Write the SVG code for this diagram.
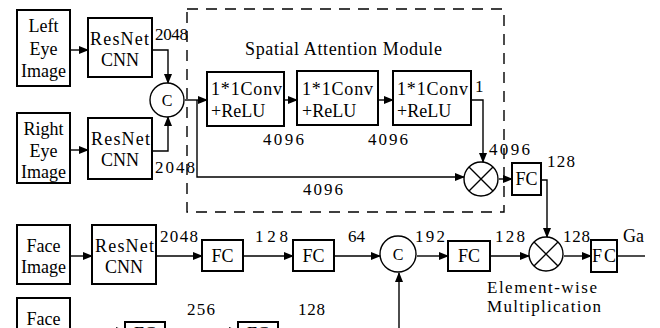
<svg xmlns="http://www.w3.org/2000/svg" width="660" height="328" viewBox="0 0 660 328" font-family="Liberation Serif" font-size="18">
<defs>
<marker id="ah" markerWidth="10" markerHeight="8" refX="9" refY="4" orient="auto" markerUnits="userSpaceOnUse">
<path d="M0,0 L10,4 L0,8 Z" fill="#000"/>
</marker>
<style>
.box{fill:#fff;stroke:#000;stroke-width:2}
.cir{fill:#fff;stroke:#000;stroke-width:1.4}
.ln{fill:none;stroke:#000;stroke-width:1.4}
.ar{fill:none;stroke:#000;stroke-width:1.4;marker-end:url(#ah)}
.c{text-anchor:middle}
</style>
</defs>
<rect width="660" height="328" fill="#fff"/>

<rect x="187" y="9" width="317" height="203" fill="none" stroke="#000" stroke-width="1.4" stroke-dasharray="11 8"/>
<text x="245" y="55" textLength="197">Spatial Attention Module</text>

<g id="connectors">
<line class="ar" x1="70" y1="50" x2="88" y2="50"/>
<polyline class="ar" points="152,50 168,50 168,83"/>
<line class="ar" x1="70" y1="150" x2="88" y2="150"/>
<polyline class="ar" points="152,151 168,151 168,117"/>
<line class="ar" x1="185" y1="100" x2="207" y2="100"/>
<polyline class="ar" points="197,100 197,177 464,177"/>
<line class="ar" x1="284" y1="100" x2="297" y2="100"/>
<line class="ar" x1="378" y1="100" x2="393" y2="100"/>
<polyline class="ar" points="471,100 483,100 483,162"/>
<line class="ar" x1="499" y1="179" x2="512" y2="179"/>
<polyline class="ar" points="541,180 547,180 547,237"/>
<line class="ar" x1="70" y1="256" x2="92" y2="256"/>
<line class="ar" x1="156" y1="256" x2="202" y2="256"/>
<line class="ar" x1="243" y1="256" x2="293" y2="256"/>
<line class="ar" x1="334" y1="256" x2="380" y2="256"/>
<line class="ar" x1="417" y1="256" x2="448" y2="256"/>
<line class="ar" x1="490" y1="256" x2="529" y2="256"/>
<line class="ar" x1="564" y1="256" x2="591" y2="256"/>
<line class="ln" x1="617" y1="256" x2="645" y2="256"/>
<line class="ar" x1="399" y1="340" x2="399" y2="273"/>
<line class="ar" x1="100" y1="331" x2="125" y2="331"/>
<line class="ar" x1="212" y1="331" x2="238" y2="331"/>
</g>

<g id="left-eye"><rect class="box" x="17" y="10" width="53" height="76"/>
<text class="c" x="43.5" y="32">Left</text><text class="c" x="43.5" y="55">Eye</text><text class="c" x="43.5" y="77">Image</text></g>
<g id="resnet-left"><rect class="box" x="88" y="18" width="64" height="59"/>
<text x="90" y="45" textLength="59">ResNet</text><text class="c" x="120" y="66">CNN</text></g>
<text font-size="17" x="155" y="40" textLength="33">2048</text>

<g id="right-eye"><rect class="box" x="17" y="113" width="53" height="70"/>
<text class="c" x="43.5" y="135">Right</text><text class="c" x="43.5" y="157">Eye</text><text class="c" x="43.5" y="178">Image</text></g>
<g id="resnet-right"><rect class="box" x="88" y="118" width="64" height="61"/>
<text x="91" y="145" textLength="59">ResNet</text><text class="c" x="120" y="166">CNN</text></g>
<text font-size="17" x="155" y="173" textLength="40">2048</text>

<g id="concat-eye"><circle class="cir" cx="167" cy="100" r="17"/><text class="c" x="167" y="106" font-size="16">C</text></g>

<g id="conv1"><rect class="box" x="207" y="72" width="77" height="54"/>
<text x="211" y="95" textLength="71">1*1Conv</text><text x="211" y="117">+ReLU</text></g>
<g id="conv2"><rect class="box" x="297" y="71" width="81" height="54"/>
<text x="302" y="95" textLength="71">1*1Conv</text><text x="302" y="117">+ReLU</text></g>
<g id="conv3"><rect class="box" x="393" y="71" width="78" height="54"/>
<text x="397" y="95" textLength="71">1*1Conv</text><text x="397" y="117">+ReLU</text></g>
<text font-size="17" x="263" y="145" textLength="41">4096</text>
<text font-size="17" x="368" y="145" textLength="40">4096</text>
<text font-size="17" x="475" y="92">1</text>
<text font-size="17" x="303" y="195" textLength="40">4096</text>
<text font-size="17" x="489" y="155" textLength="41">4096</text>

<g id="mult-att"><circle class="cir" cx="481" cy="179" r="17"/>
<path class="ln" d="M469,167 L493,191 M493,167 L469,191"/></g>
<g id="fc-att"><rect class="box" x="512" y="163" width="29" height="32"/><text class="c" x="526.5" y="185">FC</text></g>
<text font-size="17" x="547" y="167" textLength="28">128</text>

<g id="face"><rect class="box" x="17" y="225" width="53" height="59"/>
<text class="c" x="43.5" y="252">Face</text><text class="c" x="43.5" y="273">Image</text></g>
<g id="resnet-face"><rect class="box" x="92" y="225" width="64" height="59"/>
<text x="95" y="252" textLength="59">ResNet</text><text class="c" x="124" y="273">CNN</text></g>
<text font-size="17" x="160" y="242" textLength="38">2048</text>
<g id="fc1"><rect class="box" x="202" y="240" width="41" height="31"/><text class="c" x="222.5" y="262">FC</text></g>
<text font-size="17" x="255" y="242" textLength="33">128</text>
<g id="fc2"><rect class="box" x="293" y="240" width="41" height="31"/><text class="c" x="313.5" y="262">FC</text></g>
<text font-size="17" x="348" y="242">64</text>
<g id="concat-face"><circle class="cir" cx="398" cy="254" r="18"/><text class="c" x="398" y="260" font-size="16">C</text></g>
<text font-size="17" x="415" y="242" textLength="30">192</text>
<g id="fc3"><rect class="box" x="448" y="241" width="42" height="30"/><text class="c" x="469" y="262">FC</text></g>
<text font-size="17" x="495" y="242" textLength="30">128</text>
<g id="mult"><circle class="cir" cx="546" cy="254" r="17"/>
<path class="ln" d="M534,242 L558,266 M558,242 L534,266"/></g>
<text font-size="17" x="563" y="242" textLength="27">128</text>
<g id="fc4"><rect class="box" x="591" y="240" width="26" height="32"/><text class="c" x="604" y="262" textLength="24">FC</text></g>
<text x="623" y="242">Ga</text>
<text font-size="17" x="487" y="293" textLength="110">Element-wise</text>
<text font-size="17" x="487" y="312" textLength="114">Multiplication</text>

<g id="face2"><rect class="box" x="17" y="298" width="53" height="60"/><text class="c" x="43.5" y="325">Face</text></g>
<g id="fc5"><rect class="box" x="125" y="322" width="40" height="32"/><text class="c" x="145" y="340">FC</text></g>
<text font-size="17" x="187" y="315" textLength="28">256</text>
<g id="fc6"><rect class="box" x="238" y="322" width="40" height="32"/><text class="c" x="258" y="340">FC</text></g>
<text font-size="17" x="298" y="315" textLength="27">128</text>
</svg>
